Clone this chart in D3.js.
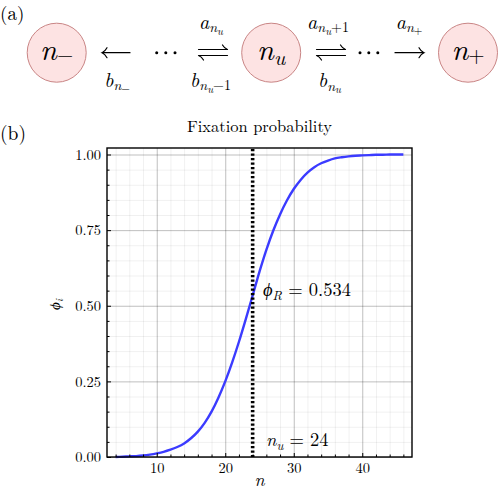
<!DOCTYPE html>
<html>
<head>
<meta charset="utf-8">
<script src="https://cdn.jsdelivr.net/npm/d3@7"></script>
<style>
  body { margin: 0; background: #fff; }
  svg { display: block; }
  text { font-family: "Latin Modern Roman", "CMU Serif", "Liberation Serif", serif; fill: #000; }
  .it { font-style: italic; }
</style>
</head>
<body>
<svg id="chart" width="498" height="504"></svg>
<script>
// fixation probability phi_i for each state n
const nStates = [4, 5, 6, 7, 8, 9, 10, 11, 12, 13, 14, 15, 16, 17, 18, 19, 20, 21, 22, 23, 24, 25,
  26, 27, 28, 29, 30, 31, 32, 33, 34, 35, 36, 37, 38, 39, 40, 41, 42, 43, 44, 45, 46];
const phiValues = [0.000, 0.001, 0.002, 0.003, 0.005, 0.008, 0.012, 0.017, 0.024, 0.033, 0.045,
  0.062, 0.084, 0.113, 0.150, 0.196, 0.250, 0.312, 0.381, 0.456, 0.534, 0.613, 0.685, 0.748,
  0.802, 0.848, 0.886, 0.916, 0.940, 0.958, 0.971, 0.980, 0.987, 0.991, 0.994, 0.996, 0.997,
  0.998, 0.999, 0.999, 1.000, 1.000, 1.000];
const nU = 24;
const phiR = 0.534;

const xTicks = [10, 20, 30, 40];
const yTicks = [0, 0.25, 0.5, 0.75, 1.0];
const xMinor = [4, 6, 8, 12, 14, 16, 18, 22, 24, 26, 28, 32, 34, 36, 38, 42, 44, 46];
const yMinor = [0.05, 0.1, 0.15, 0.2, 0.3, 0.35, 0.4, 0.45, 0.55, 0.6, 0.65, 0.7, 0.8, 0.85, 0.9, 0.95];

const svg = d3.select('#chart');

// ---------- panel (a): chain diagram ----------
const diag = svg.append('g');

svg.append('text').attr('x', 0).attr('y', 19.5).style('font-size', '19px').text('(a)');

const circles = [
  { cx: 56.7, base: '\u2212' },
  { cx: 271.2, base: 'u' },
  { cx: 468, base: '+' }
];
diag.selectAll('circle.state')
  .data(circles)
  .join('circle')
  .attr('class', 'state')
  .attr('cx', d => d.cx)
  .attr('cy', 52.7)
  .attr('r', 29.5)
  .attr('fill', '#fde3e3')
  .attr('stroke', '#c98585')
  .attr('stroke-width', 1);

circles.forEach(d => {
  const t = diag.append('text').attr('x', d.cx).attr('y', 59.5)
    .attr('text-anchor', 'middle').style('font-size', '30px');
  t.append('tspan').attr('class', 'it').text('n');
  t.append('tspan').attr('dy', d.base === 'u' ? 5 : 2).style('font-size', '21px')
    .attr('class', d.base === 'u' ? 'it' : null).text(d.base);
});

// rate labels: letter, first subscript, optional second-level subscript, tail
function rateLabel(x, y, letter, sub, subsub, tail) {
  const t = diag.append('text').attr('x', x).attr('y', y)
    .attr('text-anchor', 'middle').style('font-size', '20px');
  t.append('tspan').attr('class', 'it').text(letter);
  t.append('tspan').attr('class', 'it').attr('dy', 3.5).style('font-size', '14px').text(sub);
  if (subsub) {
    const sign = subsub === '\u2212' || subsub === '+';
    t.append('tspan').attr('class', sign ? null : 'it')
      .attr('dy', sign ? 1.5 : 2.5)
      .style('font-size', '11px').text(subsub);
  }
  if (tail) {
    t.append('tspan').attr('dy', subsub ? -2.5 : 0).style('font-size', '14px').text(tail);
  }
}
rateLabel(211, 28.5, 'a', 'n', 'u', null);
rateLabel(328, 28.5, 'a', 'n', 'u', '+1');
rateLabel(409, 28.5, 'a', 'n', '+', null);
rateLabel(117, 86.5, 'b', 'n', '\u2212', null);
rateLabel(210.5, 86.5, 'b', 'n', 'u', '\u22121');
rateLabel(329.5, 87, 'b', 'n', 'u', null);

const arrowStyle = g => g.attr('fill', 'none').attr('stroke', '#000')
  .attr('stroke-width', 1.2).attr('stroke-linecap', 'round');

// left arrow
diag.append('path').call(arrowStyle)
  .attr('d', 'M130,52.7 H102 M107,47.7 Q105,51.5 102,52.7 Q105,53.9 107,57.7');
// right arrow
diag.append('path').call(arrowStyle)
  .attr('d', 'M395,52.7 H424 M419,47.7 Q421,51.5 424,52.7 Q421,53.9 419,57.7');
// harpoons
[198.5, 316.5].forEach(x0 => {
  const x1 = x0 + 29;
  diag.append('path').call(arrowStyle)
    .attr('d', `M${x0},49.5 H${x1} M${x1 - 5},45 Q${x1 - 3},48.5 ${x1},49.5`
      + ` M${x0},55.5 H${x1} M${x0 + 5},60 Q${x0 + 3},56.5 ${x0},55.5`);
});
// dots
[[156.7, 165.8, 175], [360, 368.8, 377.8]].forEach(xs => {
  diag.selectAll(null).data(xs).join('circle')
    .attr('cx', d => d).attr('cy', 52.7).attr('r', 1.5).attr('fill', '#000');
});

// ---------- panel (b): fixation probability ----------
svg.append('text').attr('x', 0).attr('y', 139.5).style('font-size', '19.5px').text('(b)');

const pLeft = 107, pRight = 412, pTop = 148, pBottom = 457;
const x = d3.scaleLinear().domain([2.74, 47.26]).range([pLeft, pRight]);
const y = d3.scaleLinear().domain([0, 1.0215]).range([pBottom, pTop]);
const W = pRight - pLeft, H = pBottom - pTop;

const plot = svg.append('g');

// minor grid
plot.append('g').attr('transform', `translate(0,${pBottom})`)
  .call(d3.axisBottom(x).tickValues(xMinor).tickSize(-H).tickFormat(''))
  .call(g => g.select('.domain').remove())
  .call(g => g.selectAll('line').attr('stroke', '#000').attr('stroke-opacity', 0.06));
plot.append('g').attr('transform', `translate(${pLeft},0)`)
  .call(d3.axisLeft(y).tickValues(yMinor).tickSize(-W).tickFormat(''))
  .call(g => g.select('.domain').remove())
  .call(g => g.selectAll('line').attr('stroke', '#000').attr('stroke-opacity', 0.06));

// major grid
plot.append('g').attr('transform', `translate(0,${pBottom})`)
  .call(d3.axisBottom(x).tickValues(xTicks).tickSize(-H).tickFormat(''))
  .call(g => g.select('.domain').remove())
  .call(g => g.selectAll('line').attr('stroke', '#000').attr('stroke-opacity', 0.25));
plot.append('g').attr('transform', `translate(${pLeft},0)`)
  .call(d3.axisLeft(y).tickValues(yTicks).tickSize(-W).tickFormat(''))
  .call(g => g.select('.domain').remove())
  .call(g => g.selectAll('line').attr('stroke', '#000').attr('stroke-opacity', 0.25));

// curve
plot.append('path')
  .datum(nStates.map((n, i) => [n, phiValues[i]]))
  .attr('fill', 'none')
  .attr('stroke', '#3b3bff')
  .attr('stroke-width', 2.4)
  .attr('d', d3.line().x(d => x(d[0])).y(d => y(d[1])).curve(d3.curveMonotoneX));

// dotted n_u line
plot.append('line')
  .attr('x1', x(nU)).attr('x2', x(nU))
  .attr('y1', pTop + 1).attr('y2', pBottom)
  .attr('stroke', '#000').attr('stroke-width', 3.6)
  .attr('stroke-dasharray', '2.3,2.2');

// minor ticks (inward)
plot.append('g').attr('transform', `translate(0,${pBottom})`)
  .call(d3.axisBottom(x).tickValues(xMinor).tickSize(-2.5).tickFormat(''))
  .call(g => g.select('.domain').remove());
plot.append('g').attr('transform', `translate(${pLeft},0)`)
  .call(d3.axisLeft(y).tickValues(yMinor).tickSize(-2.5).tickFormat(''))
  .call(g => g.select('.domain').remove());

// major axes with labels
const xAxis = plot.append('g').attr('transform', `translate(0,${pBottom})`)
  .call(d3.axisBottom(x).tickValues(xTicks).tickSize(-4).tickPadding(6).tickFormat(d3.format('d')));
const yAxis = plot.append('g').attr('transform', `translate(${pLeft},0)`)
  .call(d3.axisLeft(y).tickValues(yTicks).tickSize(-4).tickPadding(6).tickFormat(d3.format('.2f')));
[xAxis, yAxis].forEach(g => {
  g.select('.domain').remove();
  g.selectAll('text').style('font-size', '14.5px')
    .style('font-family', '"Latin Modern Roman", "Liberation Serif", serif');
});

// frame
plot.append('rect')
  .attr('x', pLeft).attr('y', pTop).attr('width', W).attr('height', H)
  .attr('fill', 'none').attr('stroke', '#000').attr('stroke-width', 1.4);

// title and axis labels
svg.append('text').attr('x', (pLeft + pRight) / 2).attr('y', 131.5)
  .attr('text-anchor', 'middle').style('font-size', '16.5px').text('Fixation probability');

svg.append('text').attr('class', 'it').attr('x', (pLeft + pRight) / 2).attr('y', 486)
  .attr('text-anchor', 'middle').style('font-size', '18px').text('n');

const yl = svg.append('text').attr('transform', `translate(60,${(pTop + pBottom) / 2 + 2}) rotate(-90)`)
  .attr('text-anchor', 'middle').style('font-size', '15px');
yl.append('tspan').attr('class', 'it').text('\u03d5');
yl.append('tspan').attr('class', 'it').attr('dy', 3).style('font-size', '10.5px').text('i');

// annotations
const ann1 = svg.append('text').attr('x', 263).attr('y', 296).style('font-size', '18.5px');
ann1.append('tspan').attr('class', 'it').text('\u03d5');
ann1.append('tspan').attr('class', 'it').attr('dy', 4).style('font-size', '13px').text('R');
ann1.append('tspan').attr('dy', -4).text(` = ${phiR.toFixed(3)}`);

const ann2 = svg.append('text').attr('x', 266).attr('y', 446).style('font-size', '18.5px');
ann2.append('tspan').attr('class', 'it').text('n');
ann2.append('tspan').attr('class', 'it').attr('dy', 4).style('font-size', '13px').text('u');
ann2.append('tspan').attr('dy', -4).text(` = ${nU}`);
</script>
</body>
</html>
